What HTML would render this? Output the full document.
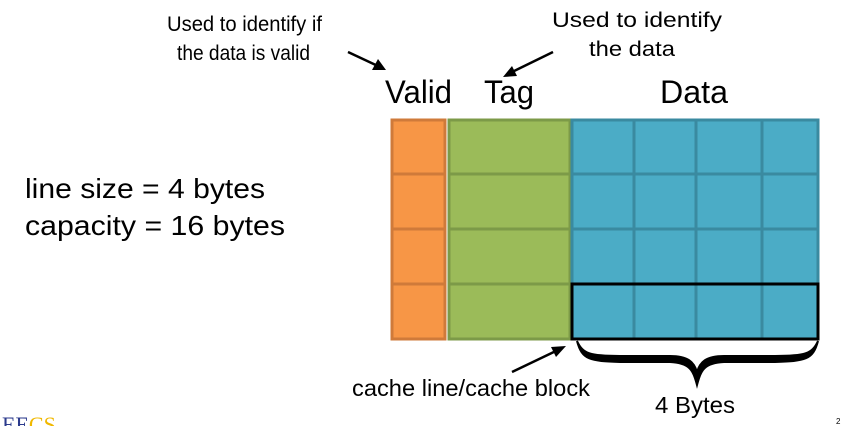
<!DOCTYPE html>
<html><head><style>body{margin:0;background:#fff}svg{display:block}text{font-family:"Liberation Sans",Arial,sans-serif;fill:#000}</style></head>
<body>
<svg width="845" height="426" viewBox="0 0 845 426">
<text x="167" y="31" font-size="21" textLength="155" lengthAdjust="spacingAndGlyphs">Used to identify if</text>
<text x="177" y="60" font-size="21" textLength="133" lengthAdjust="spacingAndGlyphs">the data is valid</text>
<line x1="348" y1="52" x2="380" y2="67" stroke="#000" stroke-width="2.5"/>
<path d="M386,70 L372,70 L378,59 z" fill="#000"/>
<text x="552" y="27" font-size="21" textLength="170" lengthAdjust="spacingAndGlyphs">Used to identify</text>
<text x="589" y="56" font-size="21" textLength="86" lengthAdjust="spacingAndGlyphs">the data</text>
<line x1="553" y1="52" x2="510" y2="73" stroke="#000" stroke-width="2.5"/>
<path d="M503,77 L512,66 L517,76 z" fill="#000"/>
<text x="385" y="103" font-size="32" textLength="67" lengthAdjust="spacingAndGlyphs">Valid</text>
<text x="484" y="103" font-size="32" textLength="50" lengthAdjust="spacingAndGlyphs">Tag</text>
<text x="660" y="103" font-size="32" textLength="68" lengthAdjust="spacingAndGlyphs">Data</text>
<text x="25" y="198" font-size="28" textLength="240" lengthAdjust="spacingAndGlyphs">line size = 4 bytes</text>
<text x="25" y="235" font-size="28" textLength="260" lengthAdjust="spacingAndGlyphs">capacity = 16 bytes</text>
<g stroke-width="3">
<g fill="#f79646" stroke="#cf7a3a">
<rect x="392" y="120" width="53" height="54"/><rect x="392" y="174" width="53" height="55"/><rect x="392" y="229" width="53" height="55"/><rect x="392" y="284" width="53" height="55"/>
</g>
<g fill="#9bbb59" stroke="#7c9a48">
<rect x="449" y="120" width="121" height="54"/><rect x="449" y="174" width="121" height="55"/><rect x="449" y="229" width="121" height="55"/><rect x="449" y="284" width="121" height="55"/>
</g>
<g fill="#4bacc6" stroke="#3a8aa0">
<rect x="572" y="120" width="62" height="54"/><rect x="634" y="120" width="62" height="54"/><rect x="696" y="120" width="66" height="54"/><rect x="762" y="120" width="56" height="54"/>
<rect x="572" y="174" width="62" height="55"/><rect x="634" y="174" width="62" height="55"/><rect x="696" y="174" width="66" height="55"/><rect x="762" y="174" width="56" height="55"/>
<rect x="572" y="229" width="62" height="55"/><rect x="634" y="229" width="62" height="55"/><rect x="696" y="229" width="66" height="55"/><rect x="762" y="229" width="56" height="55"/>
<rect x="572" y="284" width="62" height="55"/><rect x="634" y="284" width="62" height="55"/><rect x="696" y="284" width="66" height="55"/><rect x="762" y="284" width="56" height="55"/>
</g>
</g>
<rect x="572" y="284" width="246" height="55" fill="none" stroke="#000" stroke-width="3"/>
<path d="M577,341 C582,360 590,361 620,362 L670,362 C690,363 693,370 697,385 C701,370 704,363 724,362 L775,362 C805,361 813,360 818,341 C812,354 805,356 775,356 L724,356 C706,356 700,362 697,372 C694,362 688,356 670,356 L620,356 C590,356 583,354 577,341 z" fill="#000" stroke="#000" stroke-width="2"/>
<text x="352" y="396" font-size="23" textLength="238" lengthAdjust="spacingAndGlyphs">cache line/cache block</text>
<line x1="512" y1="372" x2="558" y2="350" stroke="#000" stroke-width="2.5"/>
<path d="M566,346 L556,357 L551,347 z" fill="#000"/>
<text x="655" y="413" font-size="23" textLength="80" lengthAdjust="spacingAndGlyphs">4 Bytes</text>
<text x="2" y="432" font-size="22" style="font-family:'Liberation Serif',serif"><tspan fill="#2b3a8c">EE</tspan><tspan fill="#f0b800">CS</tspan></text>
<text x="836" y="424" font-size="8" fill="#555">2</text>
</svg>
</body></html>
